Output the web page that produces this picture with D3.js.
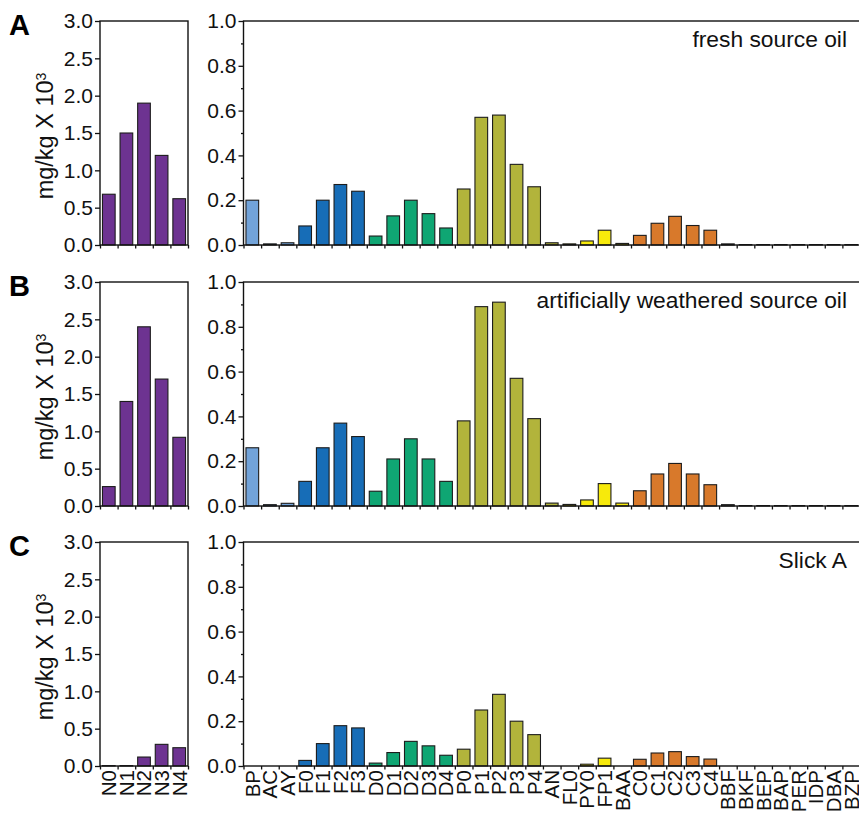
<!DOCTYPE html>
<html>
<head>
<meta charset="utf-8">
<script src="https://cdn.jsdelivr.net/npm/d3@7"></script>
<style>
  body { margin: 0; background: #fff; }
  svg { display: block; font-family: "Liberation Sans", Arial, Helvetica, sans-serif; }
</style>
</head>
<body>
<svg id="chart" width="859" height="817"></svg>
<script>
// categories
const naphCats = ["N0", "N1", "N2", "N3", "N4"];
const pahCats = ["BP", "AC", "AY", "F0", "F1", "F2", "F3", "D0", "D1", "D2", "D3", "D4",
  "P0", "P1", "P2", "P3", "P4", "AN", "FL0", "PY0", "FP1", "BAA", "C0", "C1", "C2", "C3", "C4",
  "BBF", "BKF", "BEP", "BAP", "PER", "IDP", "DBA", "BZP"];
// compound family of each PAH category
const pahGroups = ["light", "light", "light", "F", "F", "F", "F", "D", "D", "D", "D", "D",
  "P", "P", "P", "P", "P", "P", "Y", "Y", "Y", "Y", "C", "C", "C", "C", "C",
  "H", "H", "H", "H", "H", "H", "H", "H"];

// naphthalenes, mg/kg x 10^3
const naphA = [0.68, 1.5, 1.9, 1.2, 0.62];
const naphB = [0.26, 1.4, 2.4, 1.7, 0.92];
const naphC = [0.005, 0.005, 0.12, 0.29, 0.245];

// other PAHs, mg/kg x 10^3
const pahA = [0.20, 0.005, 0.01, 0.085, 0.20, 0.27, 0.24, 0.04, 0.13, 0.20, 0.14, 0.076,
  0.25, 0.57, 0.58, 0.36, 0.26, 0.01, 0.005, 0.018, 0.066, 0.007, 0.043, 0.097, 0.128, 0.087, 0.066,
  0.005, 0.002, 0.002, 0.002, 0.002, 0.002, 0.002, 0.002];
const pahB = [0.26, 0.006, 0.012, 0.11, 0.26, 0.37, 0.31, 0.066, 0.21, 0.30, 0.21, 0.11,
  0.38, 0.89, 0.91, 0.57, 0.39, 0.013, 0.007, 0.027, 0.10, 0.013, 0.068, 0.143, 0.19, 0.143, 0.095,
  0.006, 0.002, 0.002, 0.002, 0.002, 0.002, 0.002, 0.002];
const pahC = [0, 0, 0, 0.025, 0.10, 0.18, 0.17, 0.013, 0.06, 0.11, 0.09, 0.048,
  0.075, 0.25, 0.32, 0.20, 0.14, 0, 0, 0.008, 0.035, 0, 0.03, 0.058, 0.064, 0.042, 0.031,
  0, 0, 0, 0, 0, 0, 0, 0];

const panelLetters = ["A", "B", "C"];
const panelNotes = ["fresh source oil", "artificially weathered source oil", "Slick A"];
const naphSets = [naphA, naphB, naphC];
const pahSets = [pahA, pahB, pahC];

const naphColor = "#6d3391";
const groupColor = {
  light: "#72a3d9", F: "#176db7", D: "#0fa673", P: "#b2b43b",
  Y: "#f7ea0b", C: "#d8792b", H: "#8a8a8a"
};

const svg = d3.select("#chart");
const plotH = 224;
const tops = [21, 282, 542];

const xN = d3.scaleBand().domain(naphCats).range([100, 188]).paddingInner(0.28).paddingOuter(0.14);
const xP = d3.scaleBand().domain(pahCats).range([243.5, 860]).paddingInner(0.28).paddingOuter(0.14);
const yN = d3.scaleLinear().domain([0, 3]).range([plotH, 0]);
const yP = d3.scaleLinear().domain([0, 1]).range([plotH, 0]);

function drawChart(parent, x, y, cats, values, colorOf, majorTicks, minorTicks, showLabels) {
  const g = parent.append("g");
  const [x0, x1] = x.range();
  const data = cats.map((c, i) => ({ cat: c, v: values[i], i: i }));

  g.selectAll("rect.bar")
    .data(data)
    .join("rect")
    .attr("class", "bar")
    .attr("x", d => x(d.cat))
    .attr("y", d => y(d.v))
    .attr("width", x.bandwidth())
    .attr("height", d => y(0) - y(d.v))
    .attr("fill", d => colorOf(d))
    .attr("stroke", "#1c1c1c")
    .attr("stroke-width", 1.1);

  // frame
  g.append("rect")
    .attr("x", x0).attr("y", 0)
    .attr("width", x1 - x0).attr("height", plotH)
    .attr("fill", "none")
    .attr("stroke", "#111")
    .attr("stroke-width", 1.4);

  const yAxis = g.append("g")
    .attr("transform", `translate(${x0},0)`)
    .call(d3.axisLeft(y).tickValues(majorTicks).tickSize(5).tickSizeOuter(0)
      .tickPadding(2).tickFormat(d3.format(".1f")));
  yAxis.select(".domain").remove();
  yAxis.selectAll("line").attr("stroke", "#111").attr("stroke-width", 1.3);
  yAxis.selectAll("text").attr("fill", "#111").style("font-size", "21px")
    .style("font-family", "Liberation Sans, Arial, sans-serif");

  if (minorTicks.length) {
    const m = g.append("g")
      .attr("transform", `translate(${x0},0)`)
      .call(d3.axisLeft(y).tickValues(minorTicks).tickSize(2.5).tickSizeOuter(0).tickFormat(""));
    m.select(".domain").remove();
    m.selectAll("line").attr("stroke", "#111").attr("stroke-width", 1.3);
  }

  // tick marks at category boundaries
  const xb = d3.scaleLinear().domain([0, cats.length]).range(x.range());
  const bAxis = g.append("g")
    .attr("transform", `translate(0,${plotH})`)
    .call(d3.axisBottom(xb).tickValues(d3.range(cats.length + 1)).tickSize(3.5).tickSizeOuter(0).tickFormat(""));
  bAxis.select(".domain").remove();
  bAxis.selectAll("line").attr("stroke", "#111").attr("stroke-width", 1.3);

  if (showLabels) {
    const lab = g.append("g")
      .attr("transform", `translate(0,${plotH})`)
      .call(d3.axisBottom(x).tickSize(0));
    lab.select(".domain").remove();
    lab.selectAll("text")
      .attr("x", -4)
      .attr("y", 0)
      .attr("dy", "0.36em")
      .attr("transform", "rotate(-90)")
      .attr("fill", "#111")
      .style("text-anchor", "end")
      .style("font-size", "20.5px")
      .style("font-family", "Liberation Sans, Arial, sans-serif");
  }
}

tops.forEach((top, i) => {
  const g = svg.append("g").attr("transform", `translate(0,${top})`);

  drawChart(g, xN, yN, naphCats, naphSets[i], () => naphColor,
    d3.range(0, 3.01, 0.5), [], i === 2);
  drawChart(g, xP, yP, pahCats, pahSets[i], d => groupColor[pahGroups[d.i]],
    d3.range(0, 1.01, 0.2), [0.1, 0.3, 0.5, 0.7, 0.9], i === 2);

  g.append("text")
    .attr("x", 847)
    .attr("y", 26)
    .attr("text-anchor", "end")
    .attr("fill", "#111")
    .style("font-size", "22.8px")
    .text(panelNotes[i]);

  g.append("text")
    .attr("x", 9)
    .attr("y", 14)
    .attr("fill", "#000")
    .style("font-size", "29px")
    .style("font-weight", "bold")
    .text(panelLetters[i]);

  const yl = g.append("text")
    .attr("transform", `translate(53,${plotH / 2 + 3}) rotate(-90)`)
    .attr("text-anchor", "middle")
    .attr("fill", "#111")
    .style("font-size", "23.5px");
  yl.append("tspan").text("mg/kg X 10");
  yl.append("tspan").attr("dy", "-0.5em").style("font-size", "14px").text("3");
});
</script>
</body>
</html>
